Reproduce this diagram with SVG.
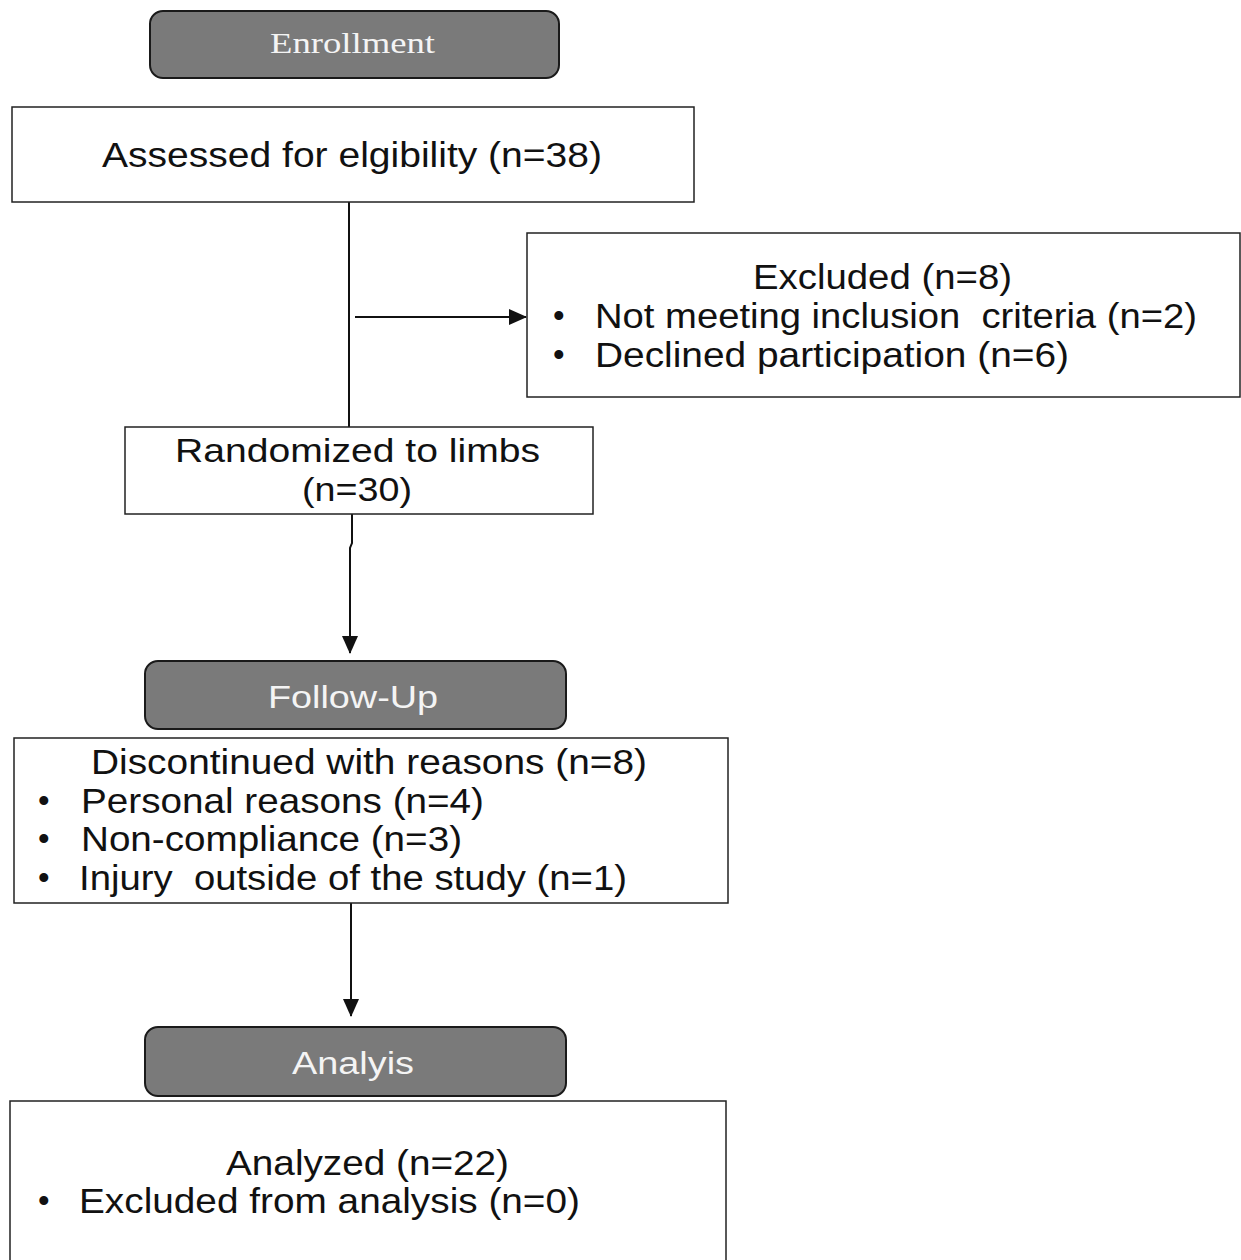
<svg xmlns="http://www.w3.org/2000/svg" width="1241" height="1260" viewBox="0 0 1241 1260">
<style>
.box{fill:#ffffff;stroke:#222;stroke-width:1.5}
.hdr{fill:#7a7a7a;stroke:#1a1a1a;stroke-width:2}
.t{font-family:"Liberation Sans",Arial,sans-serif;font-size:33px;fill:#111;white-space:pre}
.n{font-size:35px}
.h{font-family:"Liberation Sans",Arial,sans-serif;font-size:31px;fill:#f4f4f4}
.hs{font-family:"Liberation Serif","Times New Roman",serif;font-size:29px;fill:#f4f4f4}
.c{stroke:#111;stroke-width:2;fill:none}
</style>
<defs>
<marker id="arr" markerUnits="userSpaceOnUse" markerWidth="18" markerHeight="18" viewBox="0 0 18 18" refX="17" refY="9" orient="auto">
<path d="M0,1 L18,9 L0,17 Z" fill="#111"/>
</marker>
</defs>
<g id="connectors">
<line class="c" x1="349" y1="202" x2="349" y2="427"/>
<line class="c" x1="355" y1="317" x2="526" y2="317" marker-end="url(#arr)"/>
<path class="c" d="M352,514 V543 L350,548 V653" marker-end="url(#arr)"/>
<line class="c" x1="351" y1="903" x2="351" y2="1016" marker-end="url(#arr)"/>
</g>
<g id="enrollment">
<rect class="hdr" x="150" y="11" width="409" height="67" rx="13"/>
<text class="hs" x="270" y="53" textLength="165" lengthAdjust="spacingAndGlyphs">Enrollment</text>
</g>
<g id="assessed">
<rect class="box" x="12" y="107" width="682" height="95"/>
<text class="t n" x="102" y="167" textLength="500" lengthAdjust="spacingAndGlyphs">Assessed for elgibility (n=38)</text>
</g>
<g id="excluded">
<rect class="box" x="527" y="233" width="713" height="164"/>
<text class="t n" x="753" y="289" textLength="259" lengthAdjust="spacingAndGlyphs">Excluded (n=8)</text>
<text class="t" x="553" y="327">•</text>
<text class="t n" x="595" y="328" textLength="602" lengthAdjust="spacingAndGlyphs">Not meeting inclusion  criteria (n=2)</text>
<text class="t" x="553" y="366">•</text>
<text class="t n" x="595" y="367" textLength="474" lengthAdjust="spacingAndGlyphs">Declined participation (n=6)</text>
</g>
<g id="randomized">
<rect class="box" x="125" y="427" width="468" height="87"/>
<text class="t" x="175" y="462" textLength="365" lengthAdjust="spacingAndGlyphs">Randomized to limbs</text>
<text class="t" x="302" y="501" textLength="110" lengthAdjust="spacingAndGlyphs">(n=30)</text>
</g>
<g id="followup">
<rect class="hdr" x="145" y="661" width="421" height="68" rx="13"/>
<text class="h" x="268" y="708" textLength="170" lengthAdjust="spacingAndGlyphs">Follow-Up</text>
</g>
<g id="discontinued">
<rect class="box" x="14" y="738" width="714" height="165"/>
<text class="t n" x="91" y="774" textLength="556" lengthAdjust="spacingAndGlyphs">Discontinued with reasons (n=8)</text>
<text class="t" x="38" y="812">•</text>
<text class="t n" x="81" y="813" textLength="403" lengthAdjust="spacingAndGlyphs">Personal reasons (n=4)</text>
<text class="t" x="38" y="850">•</text>
<text class="t n" x="81" y="851" textLength="381" lengthAdjust="spacingAndGlyphs">Non-compliance (n=3)</text>
<text class="t" x="38" y="889">•</text>
<text class="t n" x="79" y="890" textLength="548" lengthAdjust="spacingAndGlyphs">Injury  outside of the study (n=1)</text>
</g>
<g id="analysis">
<rect class="hdr" x="145" y="1027" width="421" height="69" rx="13"/>
<text class="h" x="292" y="1074" textLength="122" lengthAdjust="spacingAndGlyphs">Analyis</text>
</g>
<g id="analyzed">
<rect class="box" x="10" y="1101" width="716" height="170"/>
<text class="t n" x="226" y="1175" textLength="283" lengthAdjust="spacingAndGlyphs">Analyzed (n=22)</text>
<text class="t" x="38" y="1212">•</text>
<text class="t n" x="79" y="1213" textLength="501" lengthAdjust="spacingAndGlyphs">Excluded from analysis (n=0)</text>
</g>
</svg>
